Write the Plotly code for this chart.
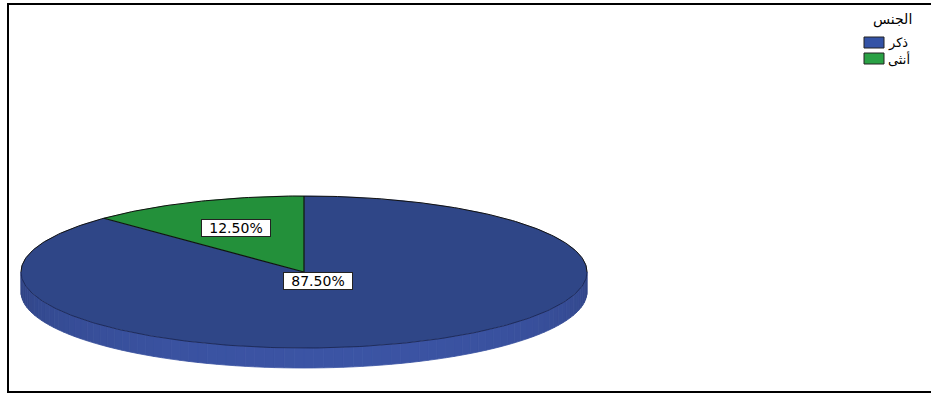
import numpy as np
import plotly.graph_objects as go

# Gender split shown as a tilted (3-D style) pie
categories = ["ذكر", "أنثى"]
values = [87.5, 12.5]
colors = ["#2f4687", "#23903a"]
legend_colors = ["#3453a6", "#2aa145"]
side_colors = [(58, 82, 160), (30, 120, 50)]
legend_title = "الجنس"

W, H = 931, 394

# ellipse geometry in pixel units
cx, cy, rx, ry, depth = 304.0, 272.0, 283.0, 76.0, 20.0
start_angle = 90.0          # slices start at 12 o'clock, run clockwise
label_radius = [0.13, 0.63]


def ellipse_pts(theta_deg, dy=0.0):
    t = np.radians(theta_deg)
    return cx + rx * np.cos(t), cy - ry * np.sin(t) + dy


total = float(sum(values))
bounds = []
acc = 0.0
for v in values:
    t0 = start_angle - 360.0 * acc / total
    acc += v
    t1 = start_angle - 360.0 * acc / total
    bounds.append((t0, t1))


def slice_of(theta):
    for i, (t0, t1) in enumerate(bounds):
        lo, hi = t1, t0
        th = (theta - lo) % 360.0 + lo
        if lo <= th <= hi:
            return i
    return 0


fig = go.Figure()

# side wall of the disc (front half only), shaded in strips
n_strips = 90
edges = np.linspace(180.0, 360.0, n_strips + 1)
for a, b in zip(edges[:-1], edges[1:]):
    mid = 0.5 * (a + b)
    idx = slice_of(mid)
    base = side_colors[idx]
    # darker near the left/right rims, brighter toward the front-right
    k = 0.8 + 0.2 * np.sin(np.radians(mid - 180.0)) ** 0.6 + 0.03 * np.cos(np.radians(mid - 300.0))
    col = "rgb({},{},{})".format(*[int(min(255, c * k)) for c in base])
    ta = np.linspace(a, b, 4)
    xt, yt = ellipse_pts(ta)
    xb, yb = ellipse_pts(ta[::-1], depth)
    fig.add_trace(go.Scatter(
        x=np.concatenate([xt, xb, xt[:1]]), y=np.concatenate([yt, yb, yt[:1]]),
        mode="lines", fill="toself", fillcolor=col,
        line=dict(color=col, width=0.8), hoverinfo="skip", showlegend=False))

# top faces of the slices
for i, (t0, t1) in enumerate(bounds):
    th = np.linspace(t0, t1, 200)
    xa, ya = ellipse_pts(th)
    xs = np.concatenate([[cx], xa, [cx]])
    ys = np.concatenate([[cy], ya, [cy]])
    fig.add_trace(go.Scatter(
        x=xs, y=ys, mode="lines", fill="toself", fillcolor=colors[i],
        line=dict(color=colors[i], width=0.5), name=categories[i],
        hoverinfo="name", showlegend=False))

# rim outline: crisp on the back edge, soft on the front edge
th_back = np.linspace(0, 180, 200)
xb_, yb_ = ellipse_pts(th_back)
fig.add_trace(go.Scatter(x=xb_, y=yb_, mode="lines", line=dict(color="#111111", width=1),
                         hoverinfo="skip", showlegend=False))
th_front = np.linspace(180, 360, 200)
xf_, yf_ = ellipse_pts(th_front)
fig.add_trace(go.Scatter(x=xf_, y=yf_, mode="lines",
                         line=dict(color="rgba(20,28,70,0.7)", width=1),
                         hoverinfo="skip", showlegend=False))

# radial slice boundaries
for t0, _ in bounds:
    ex, ey = ellipse_pts(np.array([t0]))
    fig.add_trace(go.Scatter(x=[cx, ex[0]], y=[cy, ey[0]], mode="lines",
                             line=dict(color="#111111", width=1.2),
                             hoverinfo="skip", showlegend=False))

# percentage labels
for i, (t0, t1) in enumerate(bounds):
    mid = np.radians(0.5 * (t0 + t1))
    lx = cx + rx * label_radius[i] * np.cos(mid)
    ly = cy - ry * label_radius[i] * np.sin(mid)
    fig.add_annotation(
        x=lx, y=ly, xref="x", yref="y", text=f"{values[i] / total * 100:.2f}%",
        showarrow=False, bgcolor="white", bordercolor="#222222", borderwidth=1,
        borderpad=0, width=68, height=16,
        font=dict(family="DejaVu Sans", size=14, color="black"))

# legend
fig.add_annotation(x=892, y=19, xref="x", yref="y", text=legend_title, showarrow=False,
                   font=dict(family="DejaVu Sans", size=14, color="black"))
for i, name in enumerate(categories):
    y0 = 37 + 16 * i
    fig.add_shape(type="rect", x0=864, x1=884, y0=y0, y1=y0 + 11, xref="x", yref="y",
                  fillcolor=legend_colors[i], line=dict(color="#222222", width=1))
    fig.add_annotation(x=886, y=y0 + 5.5, xref="x", yref="y", text=name, showarrow=False,
                       xanchor="left", font=dict(family="DejaVu Sans", size=13, color="black"))

# outer frame
fig.add_shape(type="rect", x0=8, x1=940, y0=4, y1=392, xref="x", yref="y",
              line=dict(color="black", width=2), layer="below")

fig.update_xaxes(range=[0, W], visible=False, fixedrange=True)
fig.update_yaxes(range=[H, 0], visible=False, fixedrange=True)
fig.update_layout(width=W, height=H, margin=dict(l=0, r=0, t=0, b=0),
                  plot_bgcolor="white", paper_bgcolor="white", showlegend=False)

fig.write_html("out.html")
